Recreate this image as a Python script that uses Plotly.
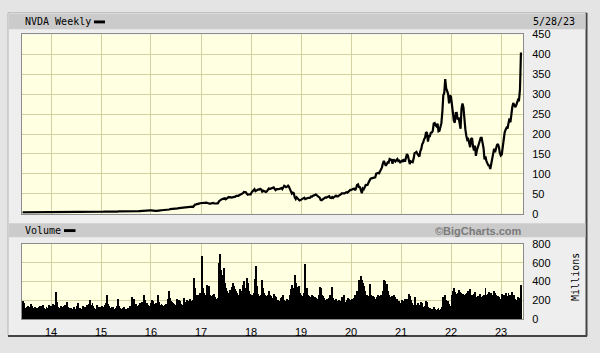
import pandas as pd
import plotly.graph_objects as go

# ---------------- data (weekly, split-adjusted USD / millions of shares) ----------------
price_2013 = [3.45, 3.50, 3.45, 3.51, 3.55, 3.60, 3.62, 3.55, 3.60, 3.85,
              3.90, 3.88, 3.85, 3.95, 3.90, 3.92, 3.89, 3.80, 3.75, 3.72,
              3.80, 3.78, 3.85, 3.90, 3.95, 3.98, 3.95, 3.92, 4.00, 4.03]
price_2014 = [3.95, 3.98, 3.92, 3.95, 3.90, 4.05, 4.45, 4.60, 4.55, 4.50,
              4.48, 4.45, 4.50, 4.55, 4.40, 4.45, 4.60, 4.65, 4.75, 4.78,
              4.85, 4.85, 4.80, 4.78, 4.70, 4.65, 4.60, 4.50, 4.40, 4.35,
              4.40, 4.55, 4.70, 4.75, 4.80, 4.75, 4.65, 4.60, 4.58, 4.55,
              4.35, 4.40, 4.70, 4.75, 4.85, 4.95, 5.10, 5.15, 5.10, 4.95,
              5.05, 5.10]
price_2015 = [5.00, 4.90, 4.85, 4.95, 4.85, 5.10, 5.50, 5.60, 5.75, 5.55,
              5.35, 5.40, 5.30, 5.25, 5.35, 5.30, 5.50, 5.40, 5.60, 5.55,
              5.60, 5.50, 5.35, 5.20, 5.15, 5.05, 5.00, 5.10, 4.95, 4.90,
              4.98, 4.95, 5.55, 5.20, 5.45, 5.40, 5.70, 5.90, 6.05, 6.15,
              6.60, 6.90, 7.20, 7.10, 7.30, 7.80, 8.05, 8.00, 8.20, 8.05,
              8.15, 8.20]
price_2016 = [8.25, 7.70, 7.45, 7.25, 7.35, 6.95, 7.05, 7.80, 7.85, 8.20,
              8.40, 8.60, 8.80, 8.95, 9.00, 9.20, 9.05, 8.90, 9.15, 10.50,
              11.60, 11.70, 11.80, 11.55, 11.50, 11.30, 11.75, 12.70, 13.30, 13.90,
              14.30, 14.50, 14.90, 15.50, 15.60, 15.80, 15.60, 16.10, 16.70, 17.15,
              16.90, 17.00, 17.30, 17.80, 17.00, 22.00, 23.20, 23.40, 23.50, 23.75,
              25.20, 26.30, 26.70]
price_2017 = [25.80, 26.20, 26.10, 28.30, 28.50, 27.90, 27.00, 25.00, 25.40, 25.50,
              26.50, 26.80, 27.20, 25.80, 25.10, 25.60, 26.00, 26.30, 31.40, 33.50,
              35.40, 36.50, 37.20, 38.40, 38.90, 36.10, 38.30, 40.10, 41.80, 41.00,
              41.70, 40.20, 40.40, 40.80, 41.90, 42.70, 45.00, 44.50, 44.70, 46.30,
              47.10, 48.60, 50.30, 51.30, 54.60, 53.80, 54.00, 49.80, 47.50, 48.70,
              48.10, 48.40]
price_2018 = [53.50, 55.80, 57.20, 61.50, 56.50, 58.70, 60.50, 61.00, 60.60, 62.50,
              61.00, 55.60, 57.90, 56.00, 55.80, 54.50, 56.40, 59.50, 63.30, 61.70,
              62.60, 63.00, 65.30, 66.00, 62.20, 59.20, 61.50, 62.40, 61.70, 62.10,
              62.70, 64.20, 61.50, 65.60, 70.20, 68.70, 66.50, 67.90, 70.30, 67.20,
              61.80, 58.20, 50.50, 52.80, 51.50, 40.80, 36.80, 41.00, 38.50, 37.60,
              33.30, 34.20]
price_2019 = [35.70, 37.80, 39.30, 40.20, 36.70, 37.60, 40.40, 39.80, 39.40, 40.20,
              43.20, 43.00, 44.90, 47.00, 46.60, 48.30, 45.30, 45.20, 42.00, 40.20,
              34.60, 33.90, 36.10, 36.00, 38.70, 41.10, 40.50, 41.90, 42.50, 43.80,
              39.90, 39.50, 41.70, 39.50, 41.80, 44.00, 45.50, 43.50, 43.30, 45.40,
              46.00, 48.40, 51.00, 50.80, 51.60, 51.20, 52.50, 54.10, 52.90, 56.20,
              59.20, 59.70]
price_2020 = [59.80, 61.80, 62.70, 63.00, 59.10, 63.90, 72.20, 73.50, 67.10, 66.50,
              60.10, 51.40, 63.40, 61.40, 66.10, 72.20, 71.70, 72.40, 78.10, 84.00,
              87.40, 88.80, 89.20, 89.10, 91.20, 91.50, 100.50, 102.00, 102.50, 101.40,
              106.10, 113.10, 116.30, 126.50, 132.50, 126.20, 120.50, 124.10, 129.10, 128.30,
              137.40, 135.80, 135.20, 125.40, 136.50, 133.30, 130.90, 134.30, 137.10, 132.10,
              133.10, 129.20]
price_2021 = [130.60, 133.20, 130.30, 137.20, 130.50, 137.80, 149.60, 146.30, 137.20, 124.70,
              131.70, 130.50, 129.40, 138.20, 152.10, 153.30, 155.20, 150.10, 147.00, 143.60,
              156.40, 162.60, 174.40, 178.40, 187.40, 191.30, 204.80, 202.70, 181.20, 195.10,
              195.00, 203.30, 204.00, 208.20, 226.40, 227.70, 221.70, 219.00, 225.90, 207.00,
              208.20, 222.20, 227.30, 255.70, 297.50, 303.30, 338.00, 315.00, 306.20, 301.00,
              277.20, 296.40, 294.10]
price_2022 = [272.50, 264.20, 233.70, 228.40, 252.90, 253.20, 236.40, 241.60, 229.40, 213.30,
              264.50, 276.90, 267.10, 231.20, 211.90, 195.70, 185.50, 187.30, 177.10, 166.90,
              188.10, 190.00, 169.40, 158.80, 171.30, 145.20, 158.60, 168.00, 173.20, 181.60,
              190.30, 190.30, 179.00, 163.90, 136.50, 143.70, 131.80, 125.20, 121.40, 120.80,
              112.30, 124.70, 138.30, 141.60, 163.30, 154.10, 165.20, 172.40, 175.10, 167.70,
              152.10, 146.10]
price_2023 = [148.60, 168.90, 178.40, 203.60, 211.00, 216.00, 213.90, 232.20, 239.30, 229.60,
              257.25, 267.80, 277.80, 270.40, 267.60, 271.40, 277.50, 286.50, 285.70, 312.60,
              405.00]

vol_2013 = [190, 150, 170, 120, 105, 130, 140, 115, 125, 160,
            140, 120, 110, 130, 120, 115, 100, 125, 135, 110,
            140, 150, 120, 95, 105, 130, 120, 110, 150, 90]
vol_2014 = [140, 120, 160, 130, 150, 290, 180, 130, 120, 110,
            140, 125, 115, 135, 150, 120, 180, 130, 110, 100,
            120, 115, 105, 95, 130, 100, 110, 140, 170, 120,
            115, 105, 95, 140, 110, 125, 120, 150, 140, 160,
            200, 150, 115, 170, 140, 120, 105, 110, 150, 130,
            125, 100]
vol_2015 = [130, 140, 115, 125, 150, 170, 250, 160, 140, 120,
            115, 130, 125, 110, 105, 120, 115, 135, 210, 140,
            120, 110, 100, 115, 125, 105, 95, 110, 120, 100,
            140, 115, 230, 170, 210, 150, 160, 140, 130, 150,
            145, 170, 160, 180, 150, 260, 200, 160, 170, 150,
            140, 95]
vol_2016 = [170, 200, 190, 160, 150, 170, 160, 260, 180, 150,
            140, 160, 150, 140, 130, 150, 160, 140, 210, 300,
            220, 190, 180, 170, 160, 150, 150, 210, 180, 200,
            190, 160, 150, 140, 220, 170, 160, 180, 200, 190,
            180, 210, 190, 170, 200, 440, 330, 220, 250, 230,
            260, 280, 210]
vol_2017 = [670, 330, 280, 250, 240, 360, 300, 330, 350, 260,
            240, 220, 250, 270, 230, 200, 210, 220, 600, 690,
            520, 470, 430, 540, 380, 330, 300, 270, 280, 310,
            260, 300, 340, 380, 350, 320, 300, 280, 260, 240,
            320, 300, 290, 360, 410, 330, 300, 440, 380, 300,
            270, 220]
vol_2018 = [250, 230, 280, 260, 430, 560, 350, 270, 240, 230,
            260, 420, 330, 280, 260, 240, 230, 250, 300, 260,
            240, 210, 220, 270, 240, 230, 200, 190, 200, 180,
            190, 220, 230, 260, 200, 180, 190, 210, 170, 200,
            260, 320, 360, 300, 330, 470, 380, 340, 300, 350,
            280, 250]
vol_2019 = [260, 240, 230, 280, 590, 300, 330, 260, 240, 230,
            220, 250, 240, 210, 230, 220, 200, 210, 250, 340,
            330, 260, 240, 230, 220, 200, 190, 210, 180, 220,
            250, 230, 340, 220, 180, 200, 210, 190, 180, 200,
            170, 190, 230, 210, 260, 180, 160, 190, 200, 220,
            210, 120]
vol_2020 = [200, 210, 190, 220, 260, 230, 300, 240, 420, 380,
            460, 420, 380, 350, 300, 260, 250, 240, 230, 230,
            370, 260, 220, 240, 230, 210, 200, 230, 250, 240,
            220, 260, 250, 300, 420, 400, 330, 370, 300, 250,
            210, 230, 240, 220, 190, 250, 230, 200, 210, 180,
            190, 140]
vol_2021 = [170, 200, 160, 190, 210, 150, 210, 180, 270, 240,
            200, 170, 150, 140, 230, 160, 150, 140, 170, 130,
            150, 180, 170, 130, 120, 140, 190, 180, 130, 110,
            120, 100, 110, 90, 130, 110, 100, 95, 110, 120,
            100, 85, 110, 130, 230, 210, 260, 200, 180, 190,
            160, 140, 90]
vol_2022 = [250, 300, 330, 290, 270, 260, 280, 310, 290, 260,
            280, 250, 270, 230, 260, 270, 280, 300, 290, 320,
            260, 240, 250, 270, 290, 230, 200, 240, 210, 270,
            230, 220, 240, 260, 250, 330, 250, 230, 270, 290,
            260, 280, 260, 230, 300, 280, 260, 220, 240, 230,
            210, 150]
vol_2023 = [270, 250, 230, 260, 280, 240, 230, 280, 250, 260,
            240, 290, 230, 260, 210, 200, 190, 230, 220, 200,
            360]

year_ticks = ["2014-01-01", "2015-01-01", "2016-01-01", "2017-01-01", "2018-01-01",
              "2019-01-01", "2020-01-01", "2021-01-01", "2022-01-01", "2023-01-01"]
year_labels = ["14", "15", "16", "17", "18", "19", "20", "21", "22", "23"]
price_ticks = [0, 50, 100, 150, 200, 250, 300, 350, 400, 450]
vol_ticks = [0, 200, 400, 600, 800]

price = (price_2013 + price_2014 + price_2015 + price_2016 + price_2017 + price_2018 +
         price_2019 + price_2020 + price_2021 + price_2022 + price_2023)
volume = (vol_2013 + vol_2014 + vol_2015 + vol_2016 + vol_2017 + vol_2018 +
          vol_2019 + vol_2020 + vol_2021 + vol_2022 + vol_2023)
pdates = pd.date_range("2013-06-07", periods=len(price), freq="7D")
vdates = pd.date_range("2013-06-07", periods=len(volume), freq="7D")

# ---------------- figure ----------------
W, H = 600, 353
def fx(px): return px / W
def fy(py): return 1 - py / H

PLOT_BG = "#ffffe1"
GRID = "#d3d0a2"
SANS = "Liberation Sans, Arial, sans-serif"
MONO = "DejaVu Sans Mono, monospace"

fig = go.Figure()
fig.add_trace(go.Scatter(x=pdates, y=price, mode="lines",
                         line=dict(color="black", width=2.2),
                         xaxis="x", yaxis="y", showlegend=False, hoverinfo="skip"))
fig.add_trace(go.Bar(x=vdates, y=volume, marker=dict(color="black", line=dict(width=0)),
                     xaxis="x2", yaxis="y2", showlegend=False, hoverinfo="skip"))

XL, XR = 22, 523
PT, PB = 29.5, 215
VT, VB = 246.5, 324

xr = ["2013-06-03", "2023-06-10"]
common_x = dict(type="date", range=xr, domain=[fx(XL), fx(XR)], tickvals=year_ticks,
                showgrid=True, gridcolor=GRID, gridwidth=1, zeroline=False,
                showline=True, linecolor="#8c8c8c", linewidth=1, mirror=True, ticks="")
fig.update_layout(
    width=W, height=H, margin=dict(l=0, r=0, t=0, b=0),
    paper_bgcolor="#e4e4e4", plot_bgcolor=PLOT_BG, bargap=0,
    xaxis=dict(common_x, anchor="y", showticklabels=False),
    xaxis2=dict(common_x, anchor="y2", ticktext=year_labels, showticklabels=True,
                ticklabelstandoff=3,
                tickfont=dict(family=SANS, size=11, color="black")),
    yaxis=dict(domain=[fy(PB), fy(PT)], range=[0, 450], tickvals=price_ticks,
               side="right", anchor="x", showgrid=True, gridcolor=GRID, zeroline=False,
               showline=True, linecolor="#8c8c8c", mirror=True, ticks="",
               ticklabelstandoff=6, tickfont=dict(family=SANS, size=11, color="black")),
    yaxis2=dict(domain=[fy(VB), fy(VT)], range=[0, 800], tickvals=vol_ticks,
                side="right", anchor="x2", showgrid=True, gridcolor=GRID, zeroline=False,
                showline=True, linecolor="#8c8c8c", mirror=True, ticks="",
                ticklabelstandoff=6, tickfont=dict(family=SANS, size=11, color="black")),
)

def prect(x0, x1, y0, y1, color, layer="below"):
    return dict(type="rect", xref="paper", yref="paper", x0=fx(x0), x1=fx(x1),
                y0=fy(y1), y1=fy(y0), fillcolor=color, line=dict(width=0), layer=layer)

def pline(x0, y0, x1, y1, color, w):
    return dict(type="line", xref="paper", yref="paper", x0=fx(x0), x1=fx(x1),
                y0=fy(y0), y1=fy(y1), line=dict(color=color, width=w), layer="below")

shapes = [
    prect(8, 586, 7, 341, "#eeeeee"),
    pline(8, 7, 586, 7, "#b4b4b4", 1),
    pline(8, 7, 8, 341, "#b4b4b4", 1),
    pline(586.5, 7, 586.5, 342, "#444444", 2),
    pline(8, 341.5, 587, 341.5, "#444444", 2),
    prect(9, 585.5, 8, 24, "#cbcbcb"),
    prect(9, 585.5, 225, 239.5, "#cbcbcb"),
    prect(XL, XR, PT, PB, PLOT_BG),
    prect(XL, XR, VT, VB, PLOT_BG),
    prect(94, 105, 15, 18, "black", "above"),
    prect(64, 75.5, 231, 234, "black", "above"),
]
fig.update_layout(shapes=shapes)

ann = [
    dict(text="NVDA Weekly", x=fx(22.5), y=fy(16.5), xanchor="left", yanchor="middle",
         font=dict(family=MONO, size=10, color="black")),
    dict(text="5/28/23", x=fx(531), y=fy(16.5), xanchor="left", yanchor="middle",
         font=dict(family=MONO, size=10, color="black")),
    dict(text="Volume", x=fx(22.5), y=fy(232), xanchor="left", yanchor="middle",
         font=dict(family=MONO, size=10, color="black")),
    dict(text="©BigCharts.com", x=fx(524), y=fy(232.5), xanchor="right", yanchor="middle",
         font=dict(family=SANS, size=11, color="#7a7a7a", weight="bold")),
    dict(text="Millions", x=fx(575.5), y=fy(281), xanchor="center", yanchor="middle",
         textangle=-90, font=dict(family=MONO, size=10, color="black")),
]
for a in ann:
    a.update(xref="paper", yref="paper", showarrow=False)
fig.update_layout(annotations=ann)

fig.write_html("out.html")
